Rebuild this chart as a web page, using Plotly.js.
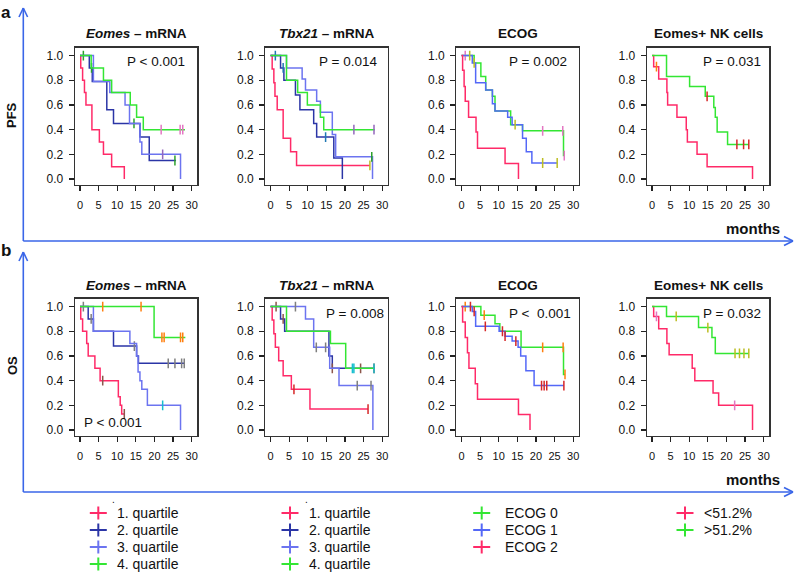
<!DOCTYPE html>
<html><head><meta charset="utf-8">
<script src="https://cdn.plot.ly/plotly-3.0.1.min.js"></script>
<style>html,body{margin:0;padding:0;background:#fff;} #chart{width:798px;height:573px;}</style>
</head><body><div id="chart"></div>
<script>
// ---------- DATA (times in months, survival fractions) ----------
// Panel titles and p-values
const panelTitles = ["<b><i>Eomes</i> – mRNA</b>", "<b><i>Tbx21</i> – mRNA</b>", "<b>ECOG</b>", "<b>Eomes+ NK cells</b>",
                     "<b><i>Eomes</i> – mRNA</b>", "<b><i>Tbx21</i> – mRNA</b>", "<b>ECOG</b>", "<b>Eomes+ NK cells</b>"];
const pValues = ["P &lt; 0.001", "P = 0.014", "P = 0.002", "P = 0.031", "P &lt; 0.001", "P = 0.008", "P &lt;  0.001", "P = 0.032"];
const rowLabels = ["PFS", "OS"];
const xTicks = [0, 5, 10, 15, 20, 25, 30];
const yTicks = [0, 0.2, 0.4, 0.6, 0.8, 1.0];

// Legend groups
const quartileNames = ["1. quartile", "2. quartile", "3. quartile", "4. quartile"];
const ecogNames = ["ECOG 0", "ECOG 1", "ECOG 2"];
const nkNames = ["&lt;51.2%", "&gt;51.2%"];

// PFS – Eomes (Q1..Q4)
const pfsEomesT = [[0,0.2,0.7,1.2,1.6,3.2,5.2,6.3,8.5,11.9],
                   [0,2.5,3.3,7.2,9.0,16.1,18.6,25.8],
                   [0,3.6,8.0,12.1,13.3,16.1,16.6,27.0],
                   [0,3.0,6.3,8.5,13.5,15.2,17.0,28.2]];
const pfsEomesS = [[1,0.9,0.8,0.7,0.6,0.4,0.3,0.2,0.1,0],
                   [1,0.9,0.79,0.56,0.45,0.34,0.15,0.15],
                   [1,0.79,0.7,0.6,0.45,0.3,0.2,0],
                   [1,0.9,0.8,0.7,0.6,0.5,0.4,0.4]];
const pfsEomesC = [[], [0.9,3.1,14.5,25.5], [22.2], [21.8,26.9,27.6]];

// PFS – Tbx21
const pfsTbxT = [[0,0.45,0.9,1.2,1.8,3.4,5.4,7.0,26.7],
                 [0,2.7,3.6,6.7,7.9,11.6,12.4,17.0,19.3],
                 [0,4.3,8.5,9.4,12.4,13.4,16.6,17.5,27.4],
                 [0,4.3,7.3,9.9,13.4,14.3,28.0]];
const pfsTbxS = [[1,0.89,0.78,0.67,0.56,0.33,0.22,0.11,0.11],
                 [1,0.9,0.8,0.68,0.56,0.45,0.34,0.17,0],
                 [1,0.9,0.81,0.72,0.63,0.54,0.36,0.18,0],
                 [1,0.8,0.7,0.6,0.5,0.4,0.4]];
const pfsTbxC = [[26.7], [1.3,3.4,14.8], [27.2], [22.4,27.8]];

// PFS – ECOG (0,1,2)
const pfsEcogT = [[0,3.4,5.2,6.5,8.3,9.0,13.2,16.4,27.4,27.6],
                  [0,2.9,3.8,6.5,8.3,9.0,12.4,13.6,16.4,17.4,18.9,25.7],
                  [0,0.3,0.7,1.0,1.9,3.9,4.3,11.7,15.3]];
const pfsEcogS = [[1,0.94,0.83,0.72,0.67,0.55,0.44,0.39,0.19,0.19],
                  [1,0.94,0.78,0.72,0.61,0.55,0.5,0.44,0.33,0.22,0.13,0.13],
                  [1,0.88,0.75,0.63,0.5,0.38,0.25,0.125,0]];
const pfsEcogC = [[1.0,21.8,27.2,27.6], [2.2,3.4,14.4,21.8,25.7], []];

// PFS – Eomes+ NK cells (<51.2%, >51.2%)
const pfsNkT = [[0,0.45,1.8,4.0,4.2,6.7,9.2,9.5,12.1,14.8,27.0],
                [0,3.9,10.1,14.3,16.6,17.0,17.5,20.3,26.0]];
const pfsNkS = [[1,0.91,0.81,0.7,0.6,0.5,0.4,0.3,0.2,0.1,0],
                [1,0.83,0.75,0.67,0.58,0.5,0.38,0.28,0.28]];
const pfsNkC = [[1.2], [14.8,22.8,24.6,26.0]];

// OS – Eomes
const osEomesT = [[0,0.2,0.7,1.8,2.2,4.0,5.4,10.3,10.8,11.2,11.9],
                  [0,2.2,3.6,9.0,15.2,15.7,28.2],
                  [0,3.6,13.4,15.2,15.6,16.1,16.6,18.1,27.0],
                  [0,19.9,28.3]];
const osEomesS = [[1,0.9,0.8,0.7,0.6,0.5,0.4,0.27,0.2,0.13,0.13],
                  [1,0.9,0.8,0.68,0.6,0.54,0.54],
                  [1,0.8,0.7,0.6,0.47,0.4,0.33,0.2,0],
                  [1,0.75,0.75]];
const osEomesC = [[6.1,11.9], [0.9,3.0,14.6,23.7,25.5,27.3,28.0], [22.2], [6.1,16.4,22.0,22.6,27.0,27.6]];

// OS – Tbx21
const osTbxT = [[0,0.45,0.9,1.3,2.2,3.4,5.6,10.6,26.2],
                [0,2.7,3.8,15.7,16.6,28.0],
                [0,9.4,11.6,15.9,18.4,27.5],
                [0,4.3,16.1,20.2,27.9]];
const osTbxS = [[1,0.89,0.78,0.67,0.56,0.44,0.33,0.17,0.17],
                [1,0.9,0.8,0.6,0.5,0.5],
                [1,0.9,0.67,0.5,0.36,0],
                [1,0.8,0.7,0.5,0.5]];
const osTbxC = [[6.3,26.2], [1.5,3.4,16.6,24.2,27.8], [6.7,12.3,14.8,23.3,27.0], [22.0,22.4,27.8]];

// OS – ECOG
const osEcogT = [[0,5.2,9.0,10.3,16.0,27.4,27.8],
                 [0,2.9,3.8,10.1,11.7,13.6,15.2,15.9,17.3,19.5,27.5],
                 [0,0.3,1.0,1.6,2.0,3.7,4.3,15.3,18.4]];
const osEcogS = [[1,0.93,0.86,0.8,0.67,0.45,0.45],
                 [1,0.96,0.84,0.8,0.76,0.72,0.67,0.6,0.48,0.36,0.36],
                 [1,0.875,0.75,0.625,0.5,0.375,0.25,0.125,0]];
const osEcogC = [[1.0,6.1,21.8,27.3,27.8], [2.4,3.4,6.4,11.0,11.7,14.6,21.5,22.2,22.9,27.5], []];

// OS – Eomes+ NK cells
const osNkT = [[0,0.45,1.8,4.0,4.6,10.8,11.5,16.4,17.9,27.0],
               [0,3.9,12.5,16.1,17.0,26.0]];
const osNkS = [[1,0.92,0.82,0.7,0.61,0.5,0.4,0.3,0.2,0],
               [1,0.92,0.83,0.75,0.62,0.62]];
const osNkC = [[1.2,22.2], [6.5,15.0,22.3,23.5,24.7,26.0]];

// ---------- STYLE ----------
const RED = "#ff2a68", DBLUE = "#2b35a6", LBLUE = "#6c74f0", GREEN = "#33e633", EBLUE = "#5468f7";
const quartileColors = [RED, DBLUE, LBLUE, GREEN];
const ecogColors = [GREEN, EBLUE, RED];
const nkColors = [RED, GREEN];
const ARROW = "#3a66e8";
const FONT = "Arial, 'Liberation Sans', sans-serif";

const W = 798, H = 573;
const panels = [
  {T: pfsEomesT, S: pfsEomesS, C: pfsEomesC, col: quartileColors},
  {T: pfsTbxT,   S: pfsTbxS,   C: pfsTbxC,   col: quartileColors},
  {T: pfsEcogT,  S: pfsEcogS,  C: pfsEcogC,  col: ecogColors},
  {T: pfsNkT,    S: pfsNkS,    C: pfsNkC,    col: nkColors},
  {T: osEomesT,  S: osEomesS,  C: osEomesC,  col: quartileColors},
  {T: osTbxT,    S: osTbxS,    C: osTbxC,    col: quartileColors},
  {T: osEcogT,   S: osEcogS,   C: osEcogC,   col: ecogColors},
  {T: osNkT,     S: osNkS,     C: osNkC,     col: nkColors}
];

// layout geometry (pixels)
const xZero = [80, 270.5, 461.5, 652];     // pixel of month 0 per column
const pxPerMonth = 3.723;
const xRange = [-1.35, 31.5];
const yRange = [-0.045, 1.065];
const rowTop = [47.5, 298.5];              // box top per row
const rowBot = [184.6, 435.6];             // box bottom per row
const px = v => v / W, py = v => 1 - v / H;

function stepAt(t, s, x) {
  let v = s[0];
  for (let i = 0; i < t.length; i++) { if (t[i] <= x) v = s[i]; else break; }
  return v;
}

const data = [];
const layout = {
  width: W, height: H, margin: {l: 0, r: 0, t: 0, b: 0},
  paper_bgcolor: "#fff", plot_bgcolor: "#fff",
  font: {family: FONT, color: "#111"},
  showlegend: false, annotations: [], shapes: []
};

panels.forEach((p, i) => {
  const row = Math.floor(i / 4), colIdx = i % 4;
  const sfx = i === 0 ? "" : String(i + 1);
  const xa = "x" + sfx, ya = "y" + sfx;
  const left = xZero[colIdx] + xRange[0] * pxPerMonth;
  const right = xZero[colIdx] + xRange[1] * pxPerMonth;
  layout["xaxis" + sfx] = {
    domain: [px(left), px(right)], range: xRange, anchor: ya,
    tickvals: xTicks, ticks: "outside", ticklen: 5, tickwidth: 1.2, tickcolor: "#222",
    showline: true, linecolor: "#333", linewidth: 1.3, mirror: true,
    showgrid: false, zeroline: false, tickfont: {size: 11, color: "#111"},
    ticklabelstandoff: 5, fixedrange: true
  };
  layout["yaxis" + sfx] = {
    domain: [py(rowBot[row]), py(rowTop[row])], range: yRange, anchor: xa,
    tickvals: yTicks, tickformat: ".1f", ticks: "outside", ticklen: 5, tickwidth: 1.2, tickcolor: "#222",
    showline: true, linecolor: "#333", linewidth: 1.3, mirror: true,
    showgrid: false, zeroline: false, tickfont: {size: 12, color: "#111"},
    ticklabelstandoff: 3, fixedrange: true
  };
  p.T.forEach((t, k) => {
    const color = p.col[k];
    data.push({type: "scatter", mode: "lines", x: t, y: p.S[k], xaxis: xa, yaxis: ya,
      line: {shape: "hv", color: color, width: 1.5}, hoverinfo: "skip"});
    if (p.C[k].length) {
      data.push({type: "scatter", mode: "markers", x: p.C[k], y: p.C[k].map(c => stepAt(t, p.S[k], c)),
        xaxis: xa, yaxis: ya, hoverinfo: "skip",
        marker: {symbol: "line-ns-open", size: 7, line: {color: color, width: 1.5}}});
    }
  });
  // title
  layout.annotations.push({xref: "paper", yref: "paper", x: px((left + right) / 2), y: py(row ? 285.5 : 33.5),
    text: panelTitles[i], showarrow: false, xanchor: "center", yanchor: "middle", font: {size: 13.5, color: "#111"}});
});

// p-values (pixel positions)
const pPos = [[156, 61.7, "center"], [348, 61.7, "center"], [538, 61.7, "center"], [732, 61.7, "center"],
              [113, 423, "center"], [355, 313.3, "center"], [540, 313.3, "center"], [732, 313.3, "center"]];
pValues.forEach((t, i) => {
  layout.annotations.push({xref: "paper", yref: "paper", x: px(pPos[i][0]), y: py(pPos[i][1]), text: t,
    showarrow: false, xanchor: pPos[i][2], yanchor: "middle", font: {size: 13.5, color: "#111"}});
});

// row letters, row labels, months
[["<b>a</b>", 6, 12], ["<b>b</b>", 6, 250]].forEach(a => layout.annotations.push({xref: "paper", yref: "paper",
  x: px(a[1]), y: py(a[2]), text: a[0], showarrow: false, xanchor: "center", yanchor: "middle", font: {size: 17, color: "#111"}}));
[[rowLabels[0], 115], [rowLabels[1], 366]].forEach(a => layout.annotations.push({xref: "paper", yref: "paper",
  x: px(12), y: py(a[1]), text: "<b>" + a[0] + "</b>", textangle: -90, showarrow: false, xanchor: "center", yanchor: "middle",
  font: {size: 13, color: "#111"}}));
[228, 479].forEach(y => layout.annotations.push({xref: "paper", yref: "paper", x: px(782), y: py(y),
  text: "<b>months</b>", showarrow: false, xanchor: "right", yanchor: "middle", font: {size: 15, color: "#111"}}));

// blue axis arrows
function line(x0, y0, x1, y1, color, w) {
  layout.shapes.push({type: "line", xref: "paper", yref: "paper", x0: px(x0), y0: py(y0), x1: px(x1), y1: py(y1),
    line: {color: color, width: w}});
}
[[8, 241], [252, 492]].forEach(([top, base]) => {
  line(23.3, top, 23.3, base, ARROW, 1.6);
  line(23.3, base, 793, base, ARROW, 1.6);
  line(23.3, top, 19, top + 9, ARROW, 1.6); line(23.3, top, 27.6, top + 9, ARROW, 1.6);
  line(793, base, 784, base - 4.5, ARROW, 1.6); line(793, base, 784, base + 4.5, ARROW, 1.6);
});

// legends
const legends = [[quartileNames, quartileColors, 98.3, 115], [quartileNames, quartileColors, 290, 306.7],
                 [ecogNames, ecogColors, 481.7, 503.3], [nkNames, nkColors, 685, 701.7]];
legends.forEach(([names, colors, cx, tx]) => {
  names.forEach((n, k) => {
    const y = 513 + 17 * k;
    line(cx - 8.5, y, cx + 8.5, y, colors[k], 2);
    line(cx, y - 6.5, cx, y + 6.5, colors[k], 2);
    layout.annotations.push({xref: "paper", yref: "paper", x: px(tx), y: py(y), text: n, showarrow: false,
      xanchor: "left", yanchor: "middle", font: {size: 14, color: "#111"}});
  });
});
[113.5, 306].forEach(x => layout.annotations.push({xref: "paper", yref: "paper", x: px(x), y: py(499),
  text: ".", showarrow: false, xanchor: "center", yanchor: "middle", font: {size: 10, color: "#111"}}));

Plotly.newPlot("chart", data, layout, {staticPlot: true, displayModeBar: false});
</script></body></html>
